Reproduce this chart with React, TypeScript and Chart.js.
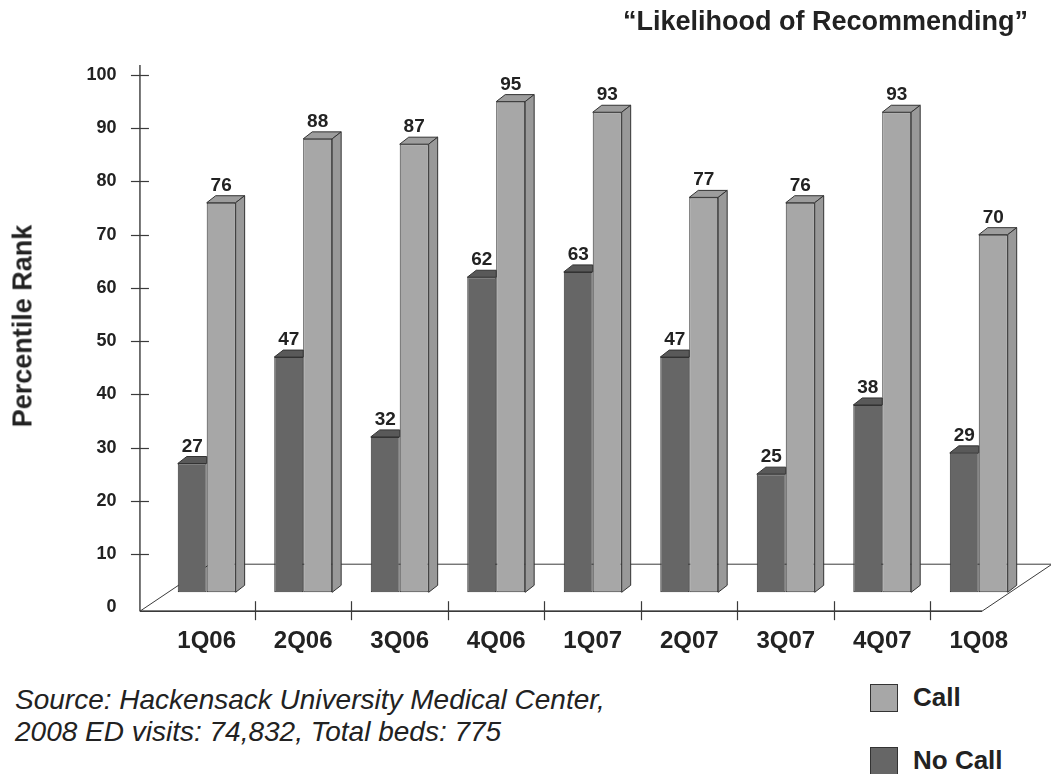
import React, { useEffect, useRef } from 'react';
import { Chart, registerables } from 'chart.js';

Chart.register(...registerables);

// ---------- data ----------
const CATEGORIES = ['1Q06', '2Q06', '3Q06', '4Q06', '1Q07', '2Q07', '3Q07', '4Q07', '1Q08'];
const NO_CALL = [27, 47, 32, 62, 63, 47, 25, 38, 29];
const CALL = [76, 88, 87, 95, 93, 77, 76, 93, 70];
const SERIES_NAMES = ['No Call', 'Call'];
const Y_MIN = 0;
const Y_MAX = 100;
const Y_STEP = 10;
const TITLE = '\u201CLikelihood of Recommending\u201D';
const Y_TITLE = 'Percentile Rank';
const SOURCE_LINES = [
  'Source: Hackensack University Medical Center,',
  '2008 ED visits: 74,832, Total beds: 775',
];

// ---------- style ----------
const FONT = "'Liberation Sans', Arial, Helvetica, sans-serif";
const TEXT = '#222222';
const EDGE = '#333333';
const CALL_FRONT = '#a7a7a7';
const CALL_TOP = '#9d9d9d';
const CALL_SIDE = '#999999';
const NC_FRONT = '#666666';
const NC_TOP = '#595959';
const FLOOR_BASE = 2.8; // floor level of the bars (value units)
const DEPTH_DX = 9;
const DEPTH_DY = 7;

Chart.defaults.font.family = FONT;

const floorPlugin = {
  id: 'floor3d',
  beforeDatasetsDraw(chart: any) {
    const { ctx, chartArea, scales } = chart;
    const x = scales.x;
    const y = scales.y;
    const axisX = chartArea.left - 18.5;
    const frontY = y.getPixelForValue(0) + 4;
    const backY = frontY - 47;
    const dx = 70;
    const frontRight = chartArea.right - 45;
    ctx.save();
    ctx.beginPath();
    ctx.moveTo(axisX, frontY);
    ctx.lineTo(frontRight, frontY);
    ctx.lineTo(frontRight + dx, backY);
    ctx.lineTo(axisX + dx, backY);
    ctx.closePath();
    ctx.fillStyle = '#ffffff';
    ctx.fill();
    ctx.strokeStyle = '#3a3a3a';
    ctx.lineWidth = 1;
    ctx.stroke();
    // front edge
    ctx.beginPath();
    ctx.lineWidth = 1.6;
    ctx.moveTo(axisX, frontY);
    ctx.lineTo(frontRight, frontY);
    ctx.stroke();
    // y axis line
    ctx.beginPath();
    ctx.lineWidth = 1.4;
    ctx.moveTo(axisX, y.getPixelForValue(Y_MAX) - 10);
    ctx.lineTo(axisX, frontY);
    ctx.stroke();
    // y ticks
    ctx.lineWidth = 1.2;
    y.ticks.forEach((t: any) => {
      if (t.value <= Y_MIN) return;
      const py = Math.round(y.getPixelForValue(t.value)) + 0.5;
      ctx.beginPath();
      ctx.moveTo(axisX - 9, py);
      ctx.lineTo(axisX + 9, py);
      ctx.stroke();
    });
    // x ticks at category boundaries
    for (let i = 0; i < CATEGORIES.length - 1; i++) {
      const bx = Math.round((x.getPixelForValue(i) + x.getPixelForValue(i + 1)) / 2) + 0.5;
      ctx.beginPath();
      ctx.moveTo(bx, frontY - 10);
      ctx.lineTo(bx, frontY + 9);
      ctx.stroke();
    }
    ctx.restore();
  },
};

const barsPlugin = {
  id: 'bars3d',
  afterDatasetsDraw(chart: any) {
    const { ctx } = chart;
    const ncMeta = chart.getDatasetMeta(0);
    const cMeta = chart.getDatasetMeta(1);
    ctx.save();
    ctx.strokeStyle = EDGE;
    ctx.lineWidth = 1;
    ctx.lineJoin = 'round';
    for (let i = 0; i < CATEGORIES.length; i++) {
      const nc = ncMeta.data[i].getProps(['x', 'y', 'base', 'width'], true);
      const c = cMeta.data[i].getProps(['x', 'y', 'base', 'width'], true);
      // No Call top face (its right part is hidden behind the Call bar)
      {
        const x0 = nc.x - nc.width / 2;
        const x1 = nc.x + nc.width / 2;
        const t = nc.y;
        ctx.beginPath();
        ctx.moveTo(x0, t);
        ctx.lineTo(x1, t);
        ctx.lineTo(x1, t - DEPTH_DY);
        ctx.lineTo(x0 + DEPTH_DX, t - DEPTH_DY);
        ctx.closePath();
        ctx.fillStyle = NC_TOP;
        ctx.fill();
        ctx.stroke();
      }
      // Call top + side faces
      {
        const x0 = c.x - c.width / 2;
        const x1 = c.x + c.width / 2;
        const t = c.y;
        const b = c.base;
        ctx.beginPath();
        ctx.moveTo(x0, t);
        ctx.lineTo(x1, t);
        ctx.lineTo(x1 + DEPTH_DX, t - DEPTH_DY);
        ctx.lineTo(x0 + DEPTH_DX, t - DEPTH_DY);
        ctx.closePath();
        ctx.fillStyle = CALL_TOP;
        ctx.fill();
        ctx.stroke();
        ctx.beginPath();
        ctx.moveTo(x1, t);
        ctx.lineTo(x1 + DEPTH_DX, t - DEPTH_DY);
        ctx.lineTo(x1 + DEPTH_DX, b - DEPTH_DY);
        ctx.lineTo(x1, b);
        ctx.closePath();
        ctx.fillStyle = CALL_SIDE;
        ctx.fill();
        ctx.stroke();
      }
      // value labels
      ctx.fillStyle = TEXT;
      ctx.font = `bold 19px ${FONT}`;
      ctx.textAlign = 'center';
      ctx.textBaseline = 'alphabetic';
      ctx.fillText(String(NO_CALL[i]), nc.x, nc.y - 12);
      ctx.fillText(String(CALL[i]), c.x, c.y - 12);
    }
    ctx.restore();
  },
};

function ChartCanvas() {
  const ref = useRef<HTMLCanvasElement | null>(null);
  useEffect(() => {
    if (!ref.current) return;
    const chart = new Chart(ref.current, {
      type: 'bar',
      data: {
        labels: CATEGORIES,
        datasets: [
          {
            label: SERIES_NAMES[0],
            data: NO_CALL,
            backgroundColor: NC_FRONT,
            borderColor: EDGE,
            borderWidth: 1,
            borderSkipped: false,
            base: FLOOR_BASE,
          } as any,
          {
            label: SERIES_NAMES[1],
            data: CALL,
            backgroundColor: CALL_FRONT,
            borderColor: EDGE,
            borderWidth: 1,
            borderSkipped: false,
            base: FLOOR_BASE,
          } as any,
        ],
      },
      options: {
        animation: false,
        responsive: false,
        maintainAspectRatio: false,
        layout: { padding: { top: 75, right: 24, left: 0, bottom: 0 } },
        datasets: { bar: { categoryPercentage: 0.6, barPercentage: 1 } },
        plugins: {
          legend: { display: false },
          tooltip: { enabled: false },
          title: { display: false },
        },
        scales: {
          x: {
            grid: { display: false, drawTicks: false },
            border: { display: false },
            ticks: {
              color: TEXT,
              font: { size: 24, weight: 'bold' },
              padding: 20,
              maxRotation: 0,
              autoSkip: false,
            },
            afterFit: (s: any) => {
              s.height = 51;
            },
          },
          y: {
            min: Y_MIN,
            max: Y_MAX,
            grid: { display: false, drawTicks: false },
            border: { display: false },
            ticks: {
              stepSize: Y_STEP,
              color: TEXT,
              font: { size: 18, weight: 'bold' },
              padding: 42,
            },
            afterFit: (s: any) => {
              s.width = 158.45;
            },
          },
        },
      } as any,
      plugins: [floorPlugin, barsPlugin],
    });
    return () => chart.destroy();
  }, []);
  return (
    <canvas
      ref={ref}
      width={1051}
      height={660}
      style={{ position: 'absolute', left: 0, top: 0, width: 1051, height: 660, display: 'block' }}
    />
  );
}

const LEGEND_ITEMS = [
  { label: SERIES_NAMES[1], color: CALL_FRONT, top: 683 },
  { label: SERIES_NAMES[0], color: NC_FRONT, top: 746 },
];

export default function App() {
  return (
    <div
      style={{
        position: 'fixed',
        left: 0,
        top: 0,
        width: 1051,
        height: 774,
        background: '#ffffff',
        overflow: 'hidden',
        fontFamily: FONT,
        color: TEXT,
      }}
    >
      <ChartCanvas />
      <div
        style={{
          position: 'absolute',
          left: 623,
          top: 8,
          fontSize: 27,
          fontWeight: 'bold',
          lineHeight: '27px',
          whiteSpace: 'nowrap',
        }}
      >
        {TITLE}
      </div>
      <div
        style={{
          position: 'absolute',
          left: 23,
          top: 326,
          transform: 'translate(-50%, -50%) rotate(-90deg)',
          fontSize: 27,
          fontWeight: 'bold',
          lineHeight: '27px',
          whiteSpace: 'nowrap',
        }}
      >
        {Y_TITLE}
      </div>
      <div
        style={{
          position: 'absolute',
          left: 15,
          top: 684,
          fontSize: 28,
          fontStyle: 'italic',
          lineHeight: '32px',
          whiteSpace: 'nowrap',
        }}
      >
        {SOURCE_LINES.map((l) => (
          <div key={l}>{l}</div>
        ))}
      </div>
      {LEGEND_ITEMS.map((it) => (
        <div
          key={it.label}
          style={{ position: 'absolute', left: 870, top: it.top, display: 'flex', alignItems: 'center' }}
        >
          <div
            style={{
              width: 26,
              height: 26,
              background: it.color,
              border: `1.5px solid ${EDGE}`,
            }}
          />
          <div style={{ marginLeft: 15, fontSize: 26, fontWeight: 'bold', lineHeight: '29px' }}>{it.label}</div>
        </div>
      ))}
    </div>
  );
}
